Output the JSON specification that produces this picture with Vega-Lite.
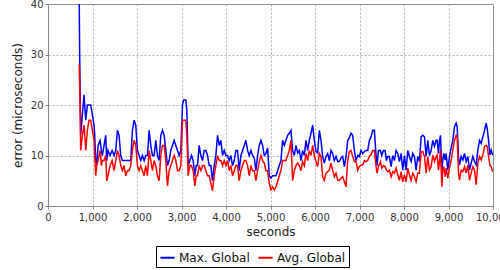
{
"$schema": "https://vega.github.io/schema/vega-lite/v6.json",
"width": 445, "height": 202,
"autosize": {"type": "none"},
"padding": {"left": 48, "top": 4, "right": 7, "bottom": 64},
"background": "white",
"config": {
  "font": "DejaVu Sans",
  "view": {"stroke": "#888888", "strokeWidth": 1},
  "axis": {"gridColor": "#a0a0a0", "gridDash": [2, 2], "gridWidth": 0.8, "domainColor": "#888888", "tickColor": "#888888", "tickSize": 3, "labelFontSize": 10, "labelColor": "#333333", "titleFontSize": 12, "titleFontWeight": "normal", "titleColor": "#222222"},
  "legend": {"labelFontSize": 12, "labelColor": "#111111", "strokeColor": "black", "padding": 3, "symbolType": "stroke", "symbolStrokeWidth": 2, "symbolSize": 200, "columnPadding": 4, "labelOffset": 3}
},
"data": {"values": [
{"s":700,"max":42,"avg":28},{"s":712,"max":30,"avg":24},{"s":735,"max":14,"avg":11},{"s":772,"max":18,"avg":14},{"s":810,"max":22,"avg":16},{"s":848,"max":17,"avg":11},{"s":885,"max":20,"avg":15},{"s":922,"max":20,"avg":17},{"s":960,"max":20,"avg":17},{"s":998,"max":18,"avg":15},{"s":1035,"max":16,"avg":13},{"s":1050,"max":14,"avg":10},{"s":1072,"max":9,"avg":6},{"s":1095,"max":8,"avg":8},{"s":1125,"max":12,"avg":9},{"s":1170,"max":13,"avg":11},{"s":1200,"max":11,"avg":8},{"s":1222,"max":10,"avg":9},{"s":1260,"max":12,"avg":9},{"s":1297,"max":14,"avg":10},{"s":1320,"max":9,"avg":5},{"s":1350,"max":11,"avg":6},{"s":1395,"max":10,"avg":8},{"s":1440,"max":11,"avg":9},{"s":1485,"max":10,"avg":7},{"s":1522,"max":11,"avg":9},{"s":1560,"max":15,"avg":11},{"s":1597,"max":14,"avg":10},{"s":1635,"max":10,"avg":8},{"s":1672,"max":9,"avg":7},{"s":1710,"max":9,"avg":8},{"s":1747,"max":9,"avg":6},{"s":1785,"max":9,"avg":7},{"s":1822,"max":9,"avg":7},{"s":1860,"max":9,"avg":8},{"s":1897,"max":15,"avg":11},{"s":1935,"max":17,"avg":13},{"s":1972,"max":16,"avg":12},
{"s":2010,"max":11,"avg":8},{"s":2047,"max":10,"avg":7},{"s":2085,"max":9,"avg":8},{"s":2122,"max":10,"avg":7},{"s":2160,"max":9,"avg":6},{"s":2197,"max":10,"avg":8},{"s":2235,"max":10,"avg":6},{"s":2272,"max":15,"avg":11},{"s":2310,"max":12,"avg":9},{"s":2347,"max":10,"avg":7},{"s":2385,"max":10,"avg":9},{"s":2422,"max":13,"avg":8},{"s":2460,"max":10,"avg":6},{"s":2497,"max":9,"avg":5},{"s":2535,"max":14,"avg":10},{"s":2572,"max":15,"avg":12},{"s":2610,"max":14,"avg":12},{"s":2647,"max":11,"avg":9},{"s":2685,"max":8,"avg":4},{"s":2722,"max":9,"avg":7},{"s":2760,"max":11,"avg":8},{"s":2797,"max":12,"avg":9},{"s":2835,"max":13,"avg":10},{"s":2872,"max":12,"avg":9},{"s":2910,"max":11,"avg":7},{"s":2947,"max":10,"avg":7},{"s":2985,"max":11,"avg":8},{"s":3022,"max":20,"avg":17},{"s":3047,"max":21,"avg":17},{"s":3097,"max":21,"avg":17},{"s":3120,"max":19,"avg":14},{"s":3150,"max":8,"avg":6},{"s":3187,"max":9,"avg":8},{"s":3225,"max":10,"avg":8},{"s":3262,"max":9,"avg":7},{"s":3300,"max":6,"avg":4},{"s":3330,"max":8,"avg":6},
{"s":3360,"max":8,"avg":6},{"s":3397,"max":12,"avg":8},{"s":3435,"max":10,"avg":7},{"s":3472,"max":9,"avg":8},{"s":3510,"max":11,"avg":8},{"s":3547,"max":11,"avg":7},{"s":3585,"max":10,"avg":6},{"s":3622,"max":8,"avg":6},{"s":3660,"max":8,"avg":4.5},{"s":3697,"max":5,"avg":3},{"s":3735,"max":8,"avg":6},{"s":3772,"max":10,"avg":8},{"s":3810,"max":14,"avg":10},{"s":3847,"max":12,"avg":9},{"s":3885,"max":13,"avg":9},{"s":3922,"max":10,"avg":8},{"s":3960,"max":11,"avg":9},{"s":3997,"max":10,"avg":8},{"s":4035,"max":10,"avg":9},{"s":4072,"max":9,"avg":7},{"s":4110,"max":10,"avg":8},{"s":4147,"max":8,"avg":6},{"s":4185,"max":9,"avg":7},{"s":4222,"max":11,"avg":8},{"s":4260,"max":11,"avg":8},{"s":4297,"max":7,"avg":5},{"s":4335,"max":10,"avg":7},{"s":4372,"max":11,"avg":8},{"s":4410,"max":12,"avg":9},{"s":4447,"max":13,"avg":9},{"s":4485,"max":11,"avg":8},{"s":4522,"max":10,"avg":6},{"s":4560,"max":11,"avg":8},{"s":4597,"max":10,"avg":7},
{"s":4635,"max":9.5,"avg":7},{"s":4672,"max":7,"avg":5},{"s":4710,"max":10,"avg":7},{"s":4747,"max":12,"avg":8.8},{"s":4785,"max":13,"avg":10},{"s":4822,"max":12,"avg":9},{"s":4860,"max":10,"avg":8.5},{"s":4897,"max":10.4,"avg":7},{"s":4935,"max":11.5,"avg":7},{"s":4972,"max":6,"avg":4.5},{"s":5010,"max":5.5,"avg":3.2},{"s":5047,"max":6,"avg":3.8},{"s":5085,"max":6,"avg":3.2},{"s":5122,"max":6,"avg":3.8},{"s":5160,"max":7,"avg":4.8},{"s":5197,"max":8,"avg":6},{"s":5235,"max":9,"avg":7},{"s":5272,"max":13,"avg":9},{"s":5310,"max":12,"avg":9},{"s":5347,"max":13,"avg":9},{"s":5385,"max":14,"avg":10},{"s":5422,"max":14.4,"avg":11},{"s":5460,"max":15,"avg":13},{"s":5497,"max":11,"avg":5},{"s":5535,"max":10,"avg":7},{"s":5572,"max":12,"avg":8},{"s":5610,"max":10.5,"avg":8.5},{"s":5647,"max":11,"avg":8},{"s":5685,"max":9,"avg":7},{"s":5722,"max":11,"avg":8.8},{"s":5760,"max":10,"avg":8},{"s":5797,"max":13,"avg":10.4},{"s":5835,"max":11,"avg":9},{"s":5872,"max":13,"avg":11},{"s":5910,"max":14.4,"avg":10},{"s":5947,"max":16,"avg":12},{"s":5985,"max":13,"avg":10},
{"s":6022,"max":10.8,"avg":8.8},{"s":6060,"max":10.5,"avg":7.8},{"s":6097,"max":15,"avg":10.4},{"s":6135,"max":13,"avg":9.8},{"s":6172,"max":9.8,"avg":5.8},{"s":6210,"max":8.5,"avg":5.1},{"s":6247,"max":9.8,"avg":6.5},{"s":6285,"max":10.4,"avg":6.8},{"s":6322,"max":9,"avg":7.1},{"s":6360,"max":11,"avg":8.5},{"s":6397,"max":10.4,"avg":7.1},{"s":6435,"max":9,"avg":5.8},{"s":6472,"max":9.8,"avg":6.5},{"s":6510,"max":8.8,"avg":5.1},{"s":6547,"max":8.8,"avg":5.1},{"s":6585,"max":9.5,"avg":5.5},{"s":6622,"max":9.8,"avg":5.8},{"s":6660,"max":7.8,"avg":4.8},{"s":6697,"max":9.8,"avg":3.8},{"s":6735,"max":13,"avg":9},{"s":6772,"max":13.5,"avg":10.8},{"s":6810,"max":14.4,"avg":11},{"s":6847,"max":14,"avg":9.8},{"s":6885,"max":11,"avg":8.8},{"s":6922,"max":9,"avg":8.8},{"s":6960,"max":10,"avg":7.1},{"s":6997,"max":9.8,"avg":7.8},{"s":7035,"max":11,"avg":8.1},{"s":7072,"max":10.4,"avg":8.1},{"s":7110,"max":10.8,"avg":9},{"s":7147,"max":11,"avg":8.8},{"s":7185,"max":11,"avg":9},{"s":7222,"max":13,"avg":9.8},{"s":7260,"max":13.7,"avg":10.2},{"s":7297,"max":15,"avg":11},{"s":7335,"max":15,"avg":11},
{"s":7372,"max":10,"avg":7.8},{"s":7395,"max":8,"avg":6.5},{"s":7425,"max":11,"avg":7.8},{"s":7470,"max":11,"avg":8.8},{"s":7500,"max":10,"avg":7.5},{"s":7537,"max":11,"avg":8},{"s":7575,"max":11,"avg":7.8},{"s":7605,"max":9,"avg":7.1},{"s":7635,"max":9.8,"avg":6.8},{"s":7672,"max":9.8,"avg":7.1},{"s":7710,"max":7.8,"avg":5.8},{"s":7747,"max":10,"avg":6.8},{"s":7785,"max":9,"avg":6.5},{"s":7822,"max":11,"avg":7.5},{"s":7860,"max":10.4,"avg":6.2},{"s":7897,"max":8.8,"avg":5.1},{"s":7935,"max":10.4,"avg":6.8},{"s":7972,"max":7.1,"avg":4.8},{"s":8010,"max":10,"avg":6.2},{"s":8047,"max":7.1,"avg":4.8},{"s":8085,"max":11,"avg":7.5},{"s":8122,"max":9.8,"avg":6.2},{"s":8160,"max":8.8,"avg":5.1},{"s":8197,"max":10.4,"avg":6.5},{"s":8235,"max":9.8,"avg":5.8},{"s":8272,"max":7.1,"avg":4.8},{"s":8310,"max":9.8,"avg":6.5},{"s":8347,"max":8.8,"avg":6.5},{"s":8385,"max":13.7,"avg":10.8},{"s":8422,"max":14,"avg":10.8},{"s":8460,"max":13.7,"avg":9.8},{"s":8497,"max":9.8,"avg":6.5},{"s":8535,"max":13,"avg":9.8},{"s":8572,"max":10,"avg":7.1},{"s":8610,"max":11,"avg":7.8},{"s":8647,"max":13,"avg":10.1},{"s":8685,"max":11.8,"avg":8.8},{"s":8722,"max":13,"avg":9.8},
{"s":8745,"max":13,"avg":10.1},{"s":8775,"max":10.4,"avg":7.1},{"s":8797,"max":13,"avg":8.8},{"s":8820,"max":14,"avg":11.1},{"s":8850,"max":7.1,"avg":3.8},{"s":8872,"max":9.1,"avg":7.1},{"s":8895,"max":10.4,"avg":7.8},{"s":8925,"max":9.1,"avg":5.8},{"s":8947,"max":10.4,"avg":7.5},{"s":8985,"max":7.1,"avg":5.5},{"s":9022,"max":9.8,"avg":7.5},{"s":9060,"max":11.5,"avg":9.1},{"s":9097,"max":13,"avg":11.1},{"s":9135,"max":15.7,"avg":13},{"s":9172,"max":16.4,"avg":14},{"s":9195,"max":15.7,"avg":13.7},{"s":9225,"max":9.8,"avg":6.5},{"s":9247,"max":8.1,"avg":5.1},{"s":9285,"max":9.8,"avg":7.1},{"s":9322,"max":9.1,"avg":6.8},{"s":9360,"max":10.4,"avg":7.8},{"s":9397,"max":8.8,"avg":6.5},{"s":9435,"max":9.8,"avg":8.1},{"s":9472,"max":7.1,"avg":5.1},{"s":9510,"max":8.5,"avg":6.5},{"s":9547,"max":9.8,"avg":7.8},{"s":9585,"max":8.8,"avg":7.1},{"s":9622,"max":8.1,"avg":4.2},{"s":9660,"max":11.1,"avg":8.5},{"s":9697,"max":13,"avg":9.8},{"s":9735,"max":12.4,"avg":9.1},{"s":9772,"max":13.7,"avg":10.1},{"s":9810,"max":15,"avg":11.8},{"s":9847,"max":16.4,"avg":12},{"s":9870,"max":15.3,"avg":11.8},{"s":9900,"max":13,"avg":9.8},{"s":9930,"max":10.1,"avg":8.1},{"s":9960,"max":11.1,"avg":7.8},{"s":9990,"max":10.1,"avg":6.8}
]},
"encoding": {
  "x": {"field": "s", "type": "quantitative", "scale": {"domain": [0, 10000], "nice": false}, "axis": {"title": "seconds", "values": [0,1000,2000,3000,4000,5000,6000,7000,8000,9000,10000], "format": ",d", "labelFlush": false, "labelOverlap": false, "labelPadding": 3, "titlePadding": 4}}
},
"layer": [
  {"mark": {"type": "line", "strokeWidth": 1.5, "clip": true},
   "encoding": {
     "y": {"field": "max", "type": "quantitative", "title": "error (microseconds)", "scale": {"domain": [0, 40], "nice": false}, "axis": {"values": [0,5,10,15,20,25,30,35,40], "titlePadding": 6}},
     "color": {"datum": "Max. Global", "type": "nominal", "scale": {"domain": ["Max. Global", "Avg. Global"], "range": ["#0000ff", "#ff0000"]}, "legend": {"title": null, "orient": "none", "legendX": 108, "legendY": 242, "direction": "horizontal"}}
   }},
  {"mark": {"type": "line", "strokeWidth": 1.5, "clip": true},
   "encoding": {
     "y": {"field": "avg", "type": "quantitative", "title": "error (microseconds)"},
     "color": {"datum": "Avg. Global", "type": "nominal"}
   }}
]
}
